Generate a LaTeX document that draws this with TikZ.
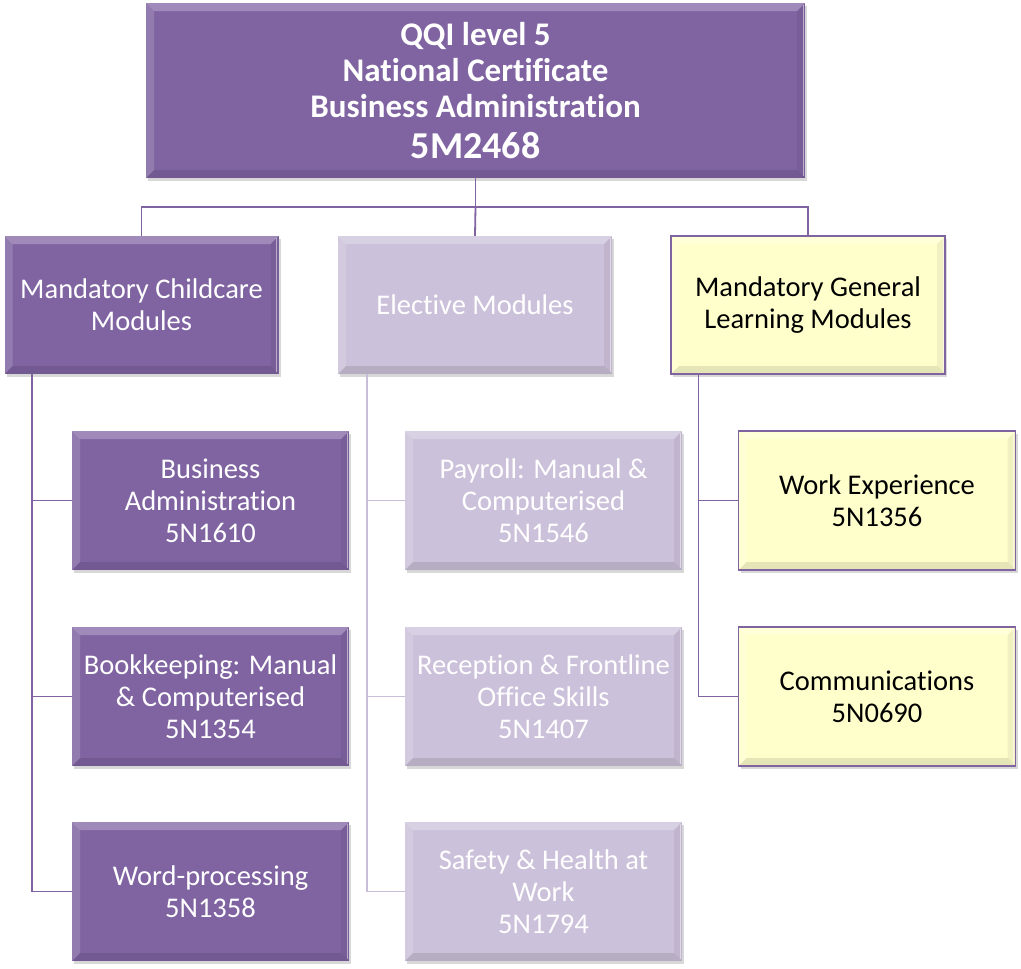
\documentclass[tikz,border=0pt]{standalone}
\usepackage{fontspec}
\setmainfont{Carlito}[Ligatures={NoCommon}]
\usetikzlibrary{shadows}
\definecolor{dpurple}{HTML}{8064A2}
\definecolor{lpurple}{HTML}{CCC1DA}
\definecolor{lyellow}{HTML}{FFFFCC}
\definecolor{lline}{HTML}{C9BED9}
\tikzset{
  bevel/.style={path picture={
    \coordinate (bvNW) at (path picture bounding box.north west);
    \coordinate (bvNE) at (path picture bounding box.north east);
    \coordinate (bvSW) at (path picture bounding box.south west);
    \coordinate (bvSE) at (path picture bounding box.south east);
    \fill[white,opacity=0.25] (bvNW) -- (bvNE) -- ([shift={(-8,8)}]bvNE) -- ([shift={(8,8)}]bvNW) -- cycle;
    \fill[white,opacity=0.15] (bvNW) -- ([shift={(8,8)}]bvNW) -- ([shift={(8,-8)}]bvSW) -- (bvSW) -- cycle;
    \fill[black,opacity=0.06] (bvNE) -- ([shift={(-8,8)}]bvNE) -- ([shift={(-8,-8)}]bvSE) -- (bvSE) -- cycle;
    \fill[black,opacity=0.10] (bvSW) -- ([shift={(8,-8)}]bvSW) -- ([shift={(-8,-8)}]bvSE) -- (bvSE) -- cycle;
    \draw[white,opacity=0.5,line width=0.8pt] ([shift={(-2,2)}]bvNE) -- ([shift={(-2,-2)}]bvSE);
  }},
  box/.style={rectangle, inner sep=0pt, align=center,
    font=\fontsize{28.5}{32}\selectfont,
    drop shadow={shadow xshift=2pt, shadow yshift=-3pt, opacity=0.3}, bevel},
  dbox/.style={box, fill=dpurple, text=white},
  lbox/.style={box, fill=lpurple, text=white},
  ybox/.style={box, fill=lyellow, text=black, draw=dpurple, line width=1.2pt},
  lvA/.style={minimum width=659pt, minimum height=175pt, font=\fontsize{33}{36}\bfseries\selectfont},
  lvB/.style={minimum width=274pt, minimum height=138pt},
  lvC/.style={minimum width=277pt, minimum height=139pt},
  conn/.style={draw=dpurple, line width=1.8pt},
  lconn/.style={draw=lline, line width=1.8pt},
}
\begin{document}
\begin{tikzpicture}[x=1pt,y=-1pt]
\useasboundingbox[fill=white] (0,0) rectangle (1021,969);
\coordinate (bus) at (475.5,207);
% top
\node[dbox,lvA] (top) at (475.5,90.5) {QQI level 5\\National Certificate\\Business Administration\\[5pt]{\fontsize{38}{40}\selectfont 5M2468}};
% level 2
\node[dbox,lvB] (ma) at (141.5,305) {Mandatory Childcare\\Modules};
\node[lbox,lvB] (el) at (475,305) {Elective Modules};
\node[ybox,lvB] (mg) at (808,305) {Mandatory General\\Learning Modules};
% level 3 col 1
\node[dbox,lvC] (ba) at (210.5,500.5) {Business\\Administration\\5N1610};
\node[dbox,lvC] (bk) at (210.5,696.5) {Bookkeeping: Manual\\\& Computerised\\5N1354};
\node[dbox,lvC] (wp) at (210.5,891.5) {Word-processing\\5N1358};
% col 2
\node[lbox,lvC] (pr) at (543.5,500.5) {Payroll: Manual \&\\Computerised\\5N1546};
\node[lbox,lvC] (rc) at (543.5,696.5) {Reception \& Frontline\\Office Skills\\5N1407};
\node[lbox,lvC] (sh) at (543.5,891.5) {Safety \& Health at\\Work\\5N1794};
% col 3
\node[ybox,lvC] (we) at (877,500.5) {Work Experience\\5N1356};
\node[ybox,lvC] (cm) at (877,696.5) {Communications\\5N0690};
% connectors
\draw[conn] (top.south) -- (bus);
\draw[conn] (bus) -| (ma.north);
\draw[conn] (bus) -- (el.north);
\draw[conn] (bus) -| (mg.north);
\draw[conn] ([xshift=28pt]ma.south west) |- (ba.west);
\draw[conn] ([xshift=28pt]ma.south west) |- (bk.west);
\draw[conn] ([xshift=28pt]ma.south west) |- (wp.west);
\draw[lconn] ([xshift=29pt]el.south west) |- (pr.west);
\draw[lconn] ([xshift=29pt]el.south west) |- (rc.west);
\draw[lconn] ([xshift=29pt]el.south west) |- (sh.west);
\draw[conn] ([xshift=28pt]mg.south west) |- (we.west);
\draw[conn] ([xshift=28pt]mg.south west) |- (cm.west);
\end{tikzpicture}
\end{document}
